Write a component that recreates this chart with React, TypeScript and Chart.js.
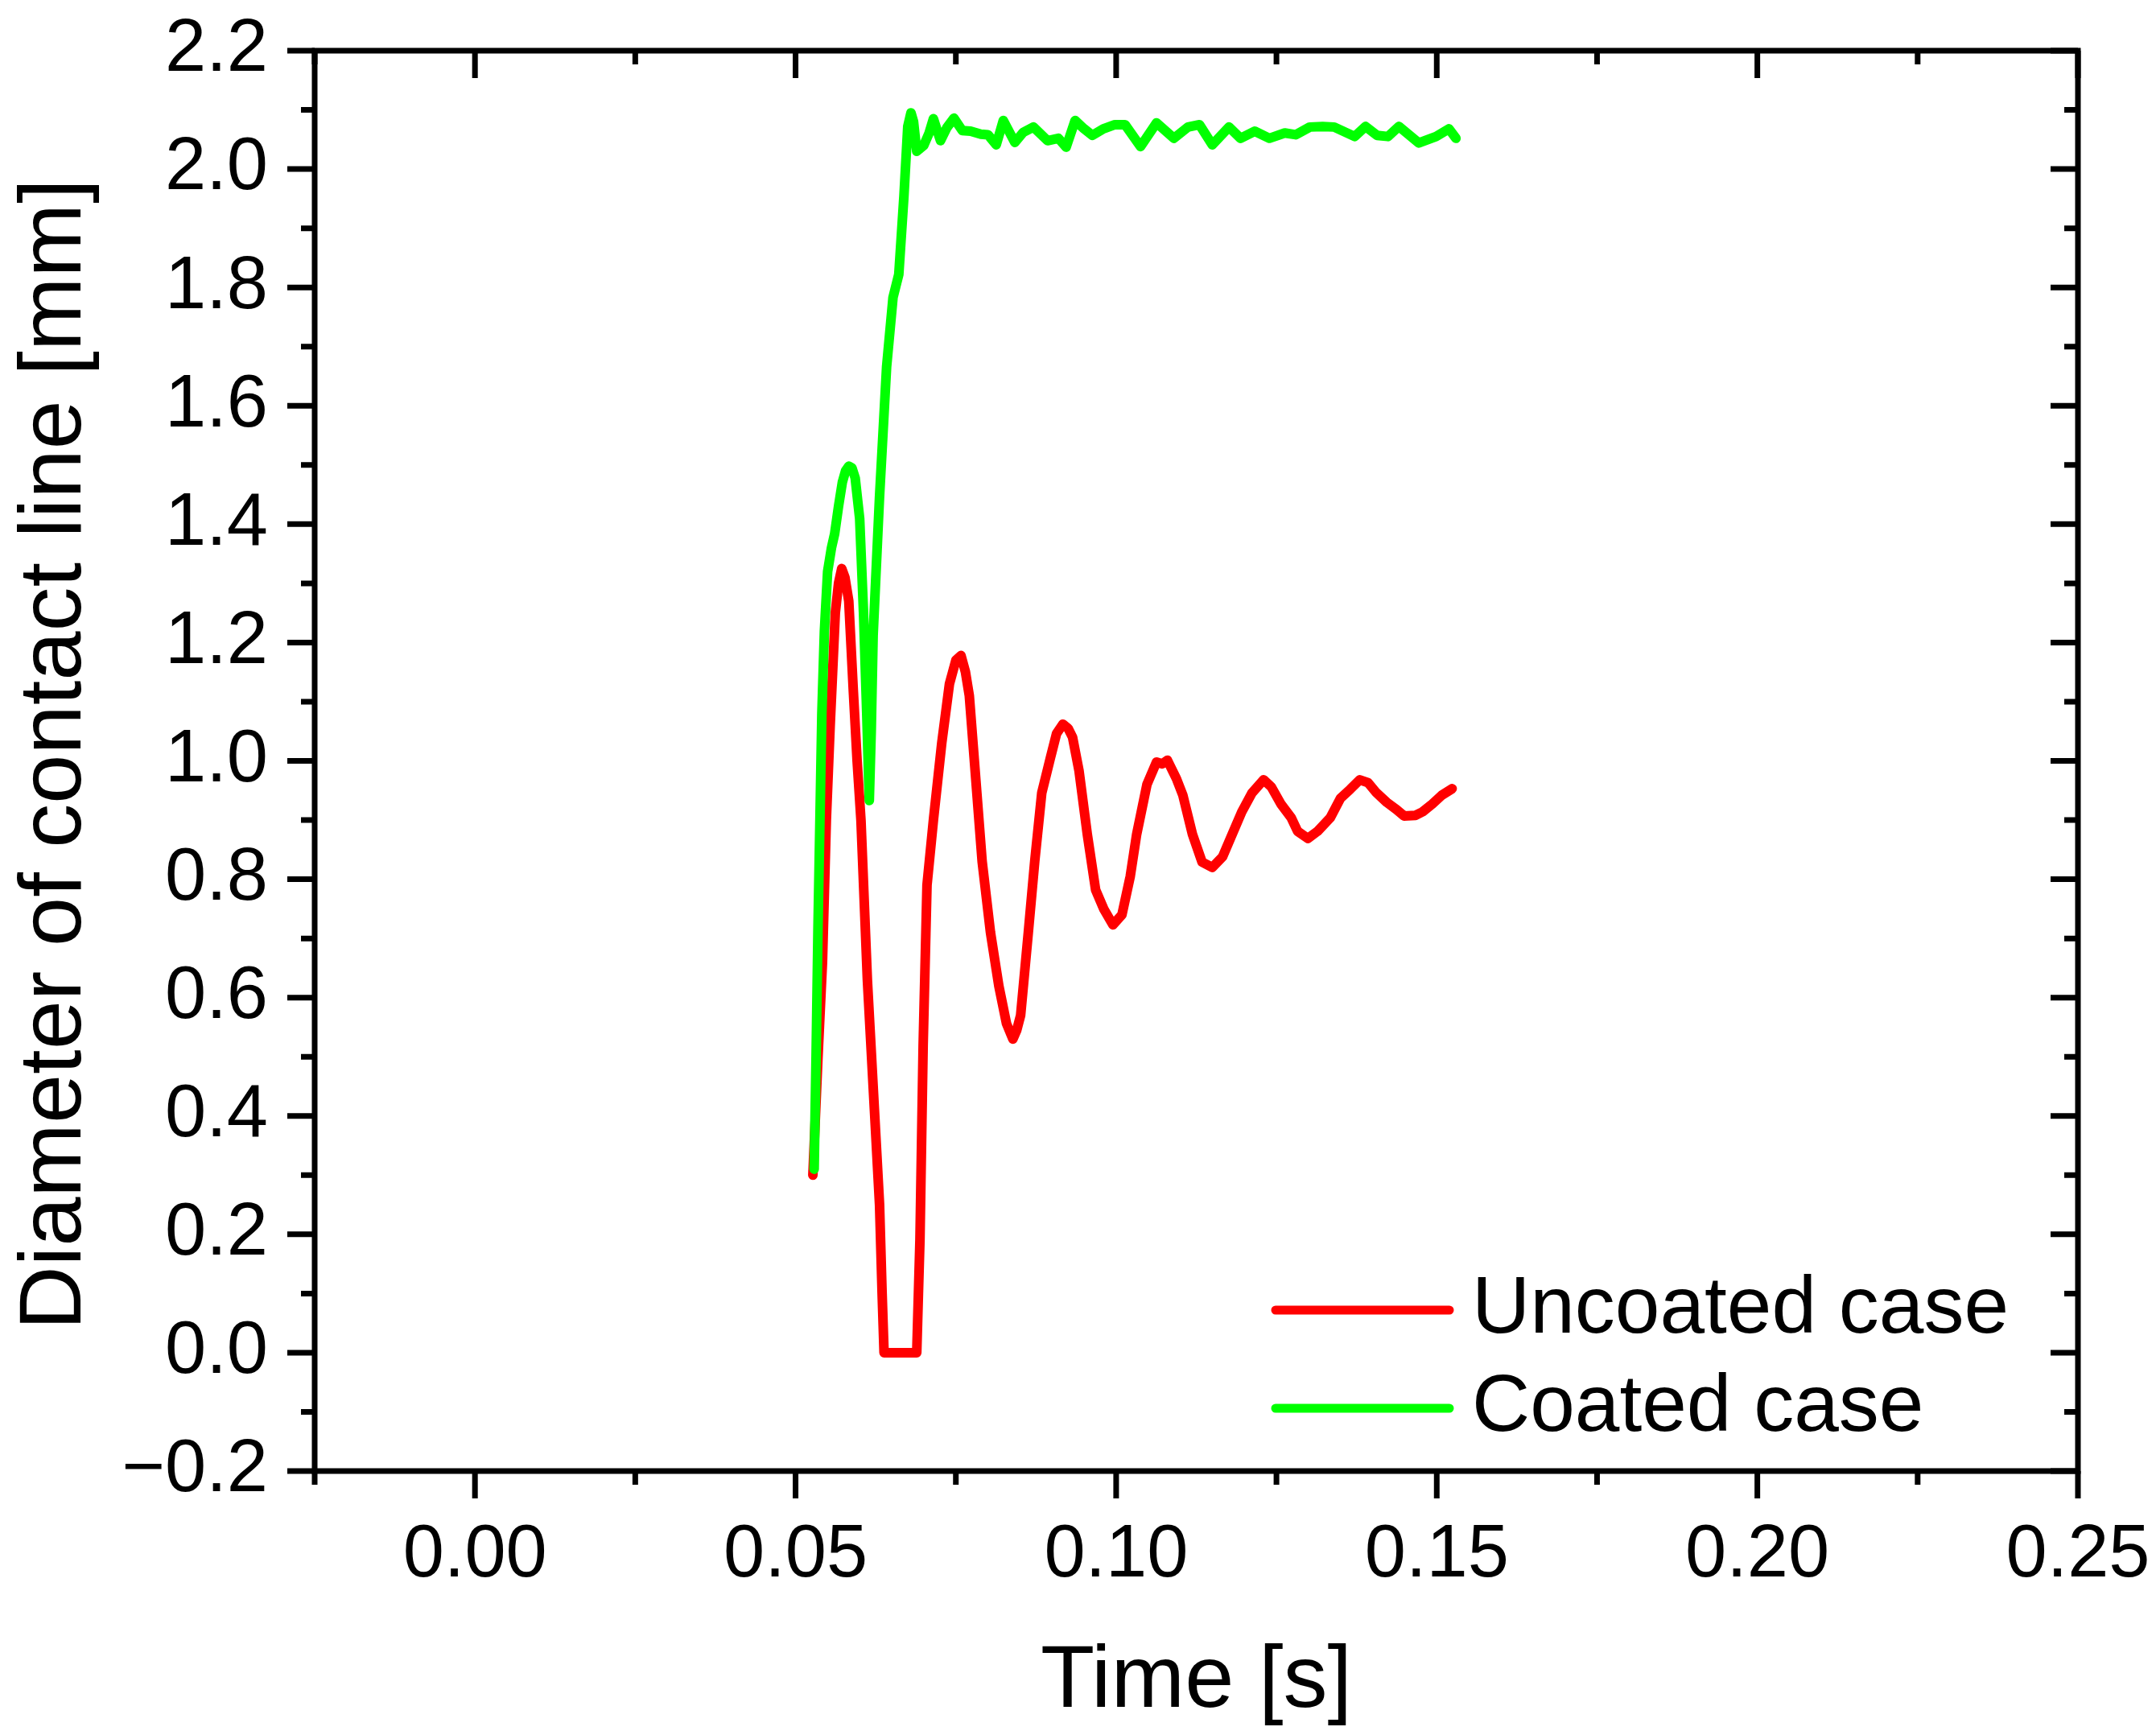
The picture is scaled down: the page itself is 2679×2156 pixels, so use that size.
import { useEffect, useRef } from "react"
import { Chart, registerables } from "chart.js"

Chart.register(...registerables)

// Uncoated case (red)
const uncoatedTime = [
  0.0527, 0.0535, 0.0542, 0.0548, 0.0554, 0.0562, 0.0567, 0.0572, 0.0577, 0.0583,
  0.059, 0.0596, 0.0602, 0.0612, 0.0623, 0.0631, 0.0635, 0.0638, 0.065, 0.0665,
  0.0689, 0.0694, 0.0699, 0.0705, 0.0715, 0.0728, 0.074, 0.075, 0.0758, 0.0765,
  0.0771, 0.0781, 0.0791, 0.0804, 0.0817, 0.0829, 0.0839, 0.0845, 0.0851, 0.0863,
  0.0873, 0.0884, 0.0897, 0.0907, 0.0917, 0.0925, 0.0932, 0.0942, 0.0955, 0.0968,
  0.0981, 0.0995, 0.1009, 0.1022, 0.1032, 0.1048, 0.1063, 0.1072, 0.108, 0.1094,
  0.1104, 0.1119, 0.1134, 0.115, 0.1166, 0.1181, 0.1196, 0.1212, 0.123, 0.1242,
  0.1257, 0.1273, 0.1283, 0.1299, 0.1314, 0.1334, 0.135, 0.1365, 0.138, 0.1393,
  0.1406, 0.1422, 0.1437, 0.1449, 0.1467, 0.1478, 0.1493, 0.1508, 0.1524,
]
const uncoatedDiameter = [
  0.3, 0.5, 0.66, 0.9, 1.06, 1.25, 1.3, 1.325, 1.31, 1.27,
  1.12, 1.0, 0.9, 0.63, 0.41, 0.25, 0.1, 0.0, 0.0, 0.0,
  0.0, 0.19, 0.52, 0.79, 0.9, 1.03, 1.13, 1.17, 1.178, 1.15,
  1.11, 0.97, 0.83, 0.71, 0.62, 0.556, 0.53, 0.545, 0.57, 0.71,
  0.83, 0.946, 1.003, 1.046, 1.062, 1.055, 1.04, 0.984, 0.876, 0.782,
  0.749, 0.723, 0.74, 0.805, 0.876, 0.96, 0.998, 0.995, 1.001, 0.97,
  0.942, 0.876, 0.829, 0.82, 0.838, 0.876, 0.914, 0.946, 0.968, 0.956,
  0.927, 0.904, 0.881, 0.869, 0.881, 0.904, 0.937, 0.952, 0.968, 0.963,
  0.946, 0.93, 0.918, 0.907, 0.908, 0.914, 0.927, 0.942, 0.953,
]

// Coated case (green)
const coatedTime = [
  0.0529, 0.0532, 0.0535, 0.0538, 0.0541, 0.0545, 0.055, 0.0556, 0.0561, 0.0567,
  0.0573, 0.0578, 0.0583, 0.0588, 0.0593, 0.06, 0.0606, 0.0611, 0.0615, 0.0618,
  0.0621, 0.0631, 0.0642, 0.0652, 0.0661, 0.0669, 0.0675, 0.068, 0.0684, 0.0689,
  0.07, 0.0708, 0.0715, 0.0726, 0.0736, 0.0747, 0.076, 0.0773, 0.0789, 0.08,
  0.0813, 0.0824, 0.0842, 0.0855, 0.0871, 0.0893, 0.091, 0.0922, 0.0936, 0.095,
  0.0963, 0.098, 0.0998, 0.1014, 0.1038, 0.1063, 0.109, 0.1112, 0.113, 0.115,
  0.1176, 0.1194, 0.1216, 0.1239, 0.1263, 0.128, 0.1302, 0.1322, 0.134, 0.1372,
  0.1389, 0.1407, 0.1424, 0.1441, 0.1472, 0.1499, 0.1519, 0.153,
]
const coatedDiameter = [
  0.31, 0.5, 0.72, 0.9, 1.08, 1.22, 1.32, 1.36, 1.384, 1.43,
  1.471, 1.49, 1.498, 1.495, 1.478, 1.409, 1.25, 1.08, 0.933, 1.05,
  1.213, 1.447, 1.666, 1.783, 1.822, 1.954, 2.072, 2.095, 2.08, 2.03,
  2.04, 2.06, 2.085, 2.048, 2.07, 2.086, 2.065, 2.064, 2.059, 2.058,
  2.041, 2.082, 2.045, 2.062, 2.071, 2.048, 2.052, 2.037, 2.082, 2.068,
  2.057, 2.068, 2.075, 2.075, 2.038, 2.078, 2.052, 2.071, 2.075, 2.041,
  2.071, 2.052, 2.064, 2.052, 2.061, 2.058, 2.071, 2.072, 2.071, 2.055,
  2.072, 2.057, 2.055, 2.072, 2.044, 2.055, 2.068, 2.052,
]

const xTicks = [0, 0.05, 0.1, 0.15, 0.2, 0.25]
const xMinorTicks = [-0.025, 0.025, 0.075, 0.125, 0.175, 0.225]
const yTicks = [-0.2, 0, 0.2, 0.4, 0.6, 0.8, 1.0, 1.2, 1.4, 1.6, 1.8, 2.0, 2.2]
const yMinorTicks = [-0.1, 0.1, 0.3, 0.5, 0.7, 0.9, 1.1, 1.3, 1.5, 1.7, 1.9, 2.1]

const xTitle = "Time [s]"
const yTitle = "Diameter of contact line [mm]"

const FONT = "'Liberation Sans', Arial, Helvetica, sans-serif"

// frame on all four sides, outward ticks left/bottom, inward ticks right/top
const frameTicks = {
  id: "frameTicks",
  afterDatasetsDraw(chart: any) {
    const { ctx, chartArea: a, scales } = chart
    const major = 34
    const minor = 17
    ctx.save()
    ctx.strokeStyle = "#000"
    ctx.lineWidth = 7
    ctx.strokeRect(a.left, a.top, a.right - a.left, a.bottom - a.top)
    ctx.beginPath()
    const xt = (v: number, len: number) => {
      const px = scales.x.getPixelForValue(v)
      ctx.moveTo(px, a.bottom)
      ctx.lineTo(px, a.bottom + len)
      ctx.moveTo(px, a.top)
      ctx.lineTo(px, a.top + len)
    }
    const yt = (v: number, len: number) => {
      const py = scales.y.getPixelForValue(v)
      ctx.moveTo(a.left, py)
      ctx.lineTo(a.left - len, py)
      ctx.moveTo(a.right, py)
      ctx.lineTo(a.right - len, py)
    }
    xTicks.forEach((v) => xt(v, major))
    xMinorTicks.forEach((v) => xt(v, minor))
    yTicks.forEach((v) => yt(v, major))
    yMinorTicks.forEach((v) => yt(v, minor))
    ctx.stroke()

    // axis titles
    ctx.fillStyle = "#000"
    ctx.font = `110px ${FONT}`
    ctx.textAlign = "center"
    ctx.textBaseline = "middle"
    const cx = (a.left + a.right) / 2
    const cy = (a.top + a.bottom) / 2
    ctx.fillText(xTitle, cx, a.bottom + 263)
    ctx.translate(70, cy - 8)
    ctx.rotate(-Math.PI / 2)
    ctx.fillText(yTitle, 0, 0)
    ctx.restore()
  },
}

const insideLegend = {
  id: "insideLegend",
  afterDraw(chart: any) {
    const { ctx, chartArea: a } = chart
    const rows = [a.bottom - 200, a.bottom - 78]
    ctx.save()
    chart.data.datasets.forEach((ds: any, i: number) => {
      const yy = rows[i]
      ctx.strokeStyle = ds.borderColor
      ctx.lineWidth = 11
      ctx.lineCap = "round"
      ctx.beginPath()
      ctx.moveTo(a.right - 997, yy)
      ctx.lineTo(a.right - 781, yy)
      ctx.stroke()
      ctx.fillStyle = "#000"
      ctx.font = `100px ${FONT}`
      ctx.textBaseline = "middle"
      ctx.textAlign = "left"
      ctx.fillText(ds.label, a.right - 753, yy)
    })
    ctx.restore()
  },
}

export default function App() {
  const chartRef = useRef<HTMLCanvasElement>(null)
  const chartInstance = useRef<Chart | null>(null)

  useEffect(() => {
    document.body.style.margin = "0"
    if (!chartRef.current) return
    if (chartInstance.current) chartInstance.current.destroy()

    const ctx = chartRef.current.getContext("2d")
    if (!ctx) return

    chartInstance.current = new Chart(ctx, {
      type: "line",
      data: {
        datasets: [
          {
            label: "Uncoated case",
            data: uncoatedTime.map((t, i) => ({ x: t, y: uncoatedDiameter[i] })),
            borderColor: "#ff0000",
            borderWidth: 12,
            pointRadius: 0,
            tension: 0,
            borderJoinStyle: "round",
            borderCapStyle: "round",
            order: 1,
          },
          {
            label: "Coated case",
            data: coatedTime.map((t, i) => ({ x: t, y: coatedDiameter[i] })),
            borderColor: "#00ff00",
            borderWidth: 12,
            pointRadius: 0,
            tension: 0,
            borderJoinStyle: "round",
            borderCapStyle: "round",
            order: 0,
          },
        ],
      },
      options: {
        animation: false,
        responsive: true,
        maintainAspectRatio: false,
        devicePixelRatio: 1,
        layout: { padding: { top: 63, right: 97, bottom: 0, left: 0 } },
        scales: {
          x: {
            type: "linear",
            min: -0.025,
            max: 0.25,
            afterBuildTicks: (s: any) => {
              s.ticks = xTicks.map((value) => ({ value }))
            },
            afterFit: (s: any) => {
              s.height = 328
              s.paddingLeft = 0
              s.paddingRight = 0
            },
            grid: { display: false, drawTicks: false },
            border: { display: false },
            ticks: {
              autoSkip: false,
              maxRotation: 0,
              padding: 50,
              color: "#000",
              font: { family: FONT, size: 92 },
              callback: (v: any) => Number(v).toFixed(2),
            },
          },
          y: {
            type: "linear",
            min: -0.2,
            max: 2.2,
            afterBuildTicks: (s: any) => {
              s.ticks = yTicks.map((value) => ({ value }))
            },
            afterFit: (s: any) => {
              s.width = 391
              s.paddingTop = 0
              s.paddingBottom = 0
            },
            grid: { display: false, drawTicks: false },
            border: { display: false },
            ticks: {
              autoSkip: false,
              padding: 58,
              color: "#000",
              font: { family: FONT, size: 92 },
              callback: (v: any) => {
                const n = Number(v)
                return n < 0 ? "\u2212" + Math.abs(n).toFixed(1) : n.toFixed(1)
              },
            },
          },
        },
        plugins: {
          legend: { display: false },
          tooltip: { enabled: false },
        },
      },
      plugins: [frameTicks, insideLegend],
    })

    return () => {
      if (chartInstance.current) {
        chartInstance.current.destroy()
        chartInstance.current = null
      }
    }
  }, [])

  return (
    <div style={{ position: "relative", width: 2679, height: 2156 }}>
      <canvas ref={chartRef}></canvas>
    </div>
  )
}
